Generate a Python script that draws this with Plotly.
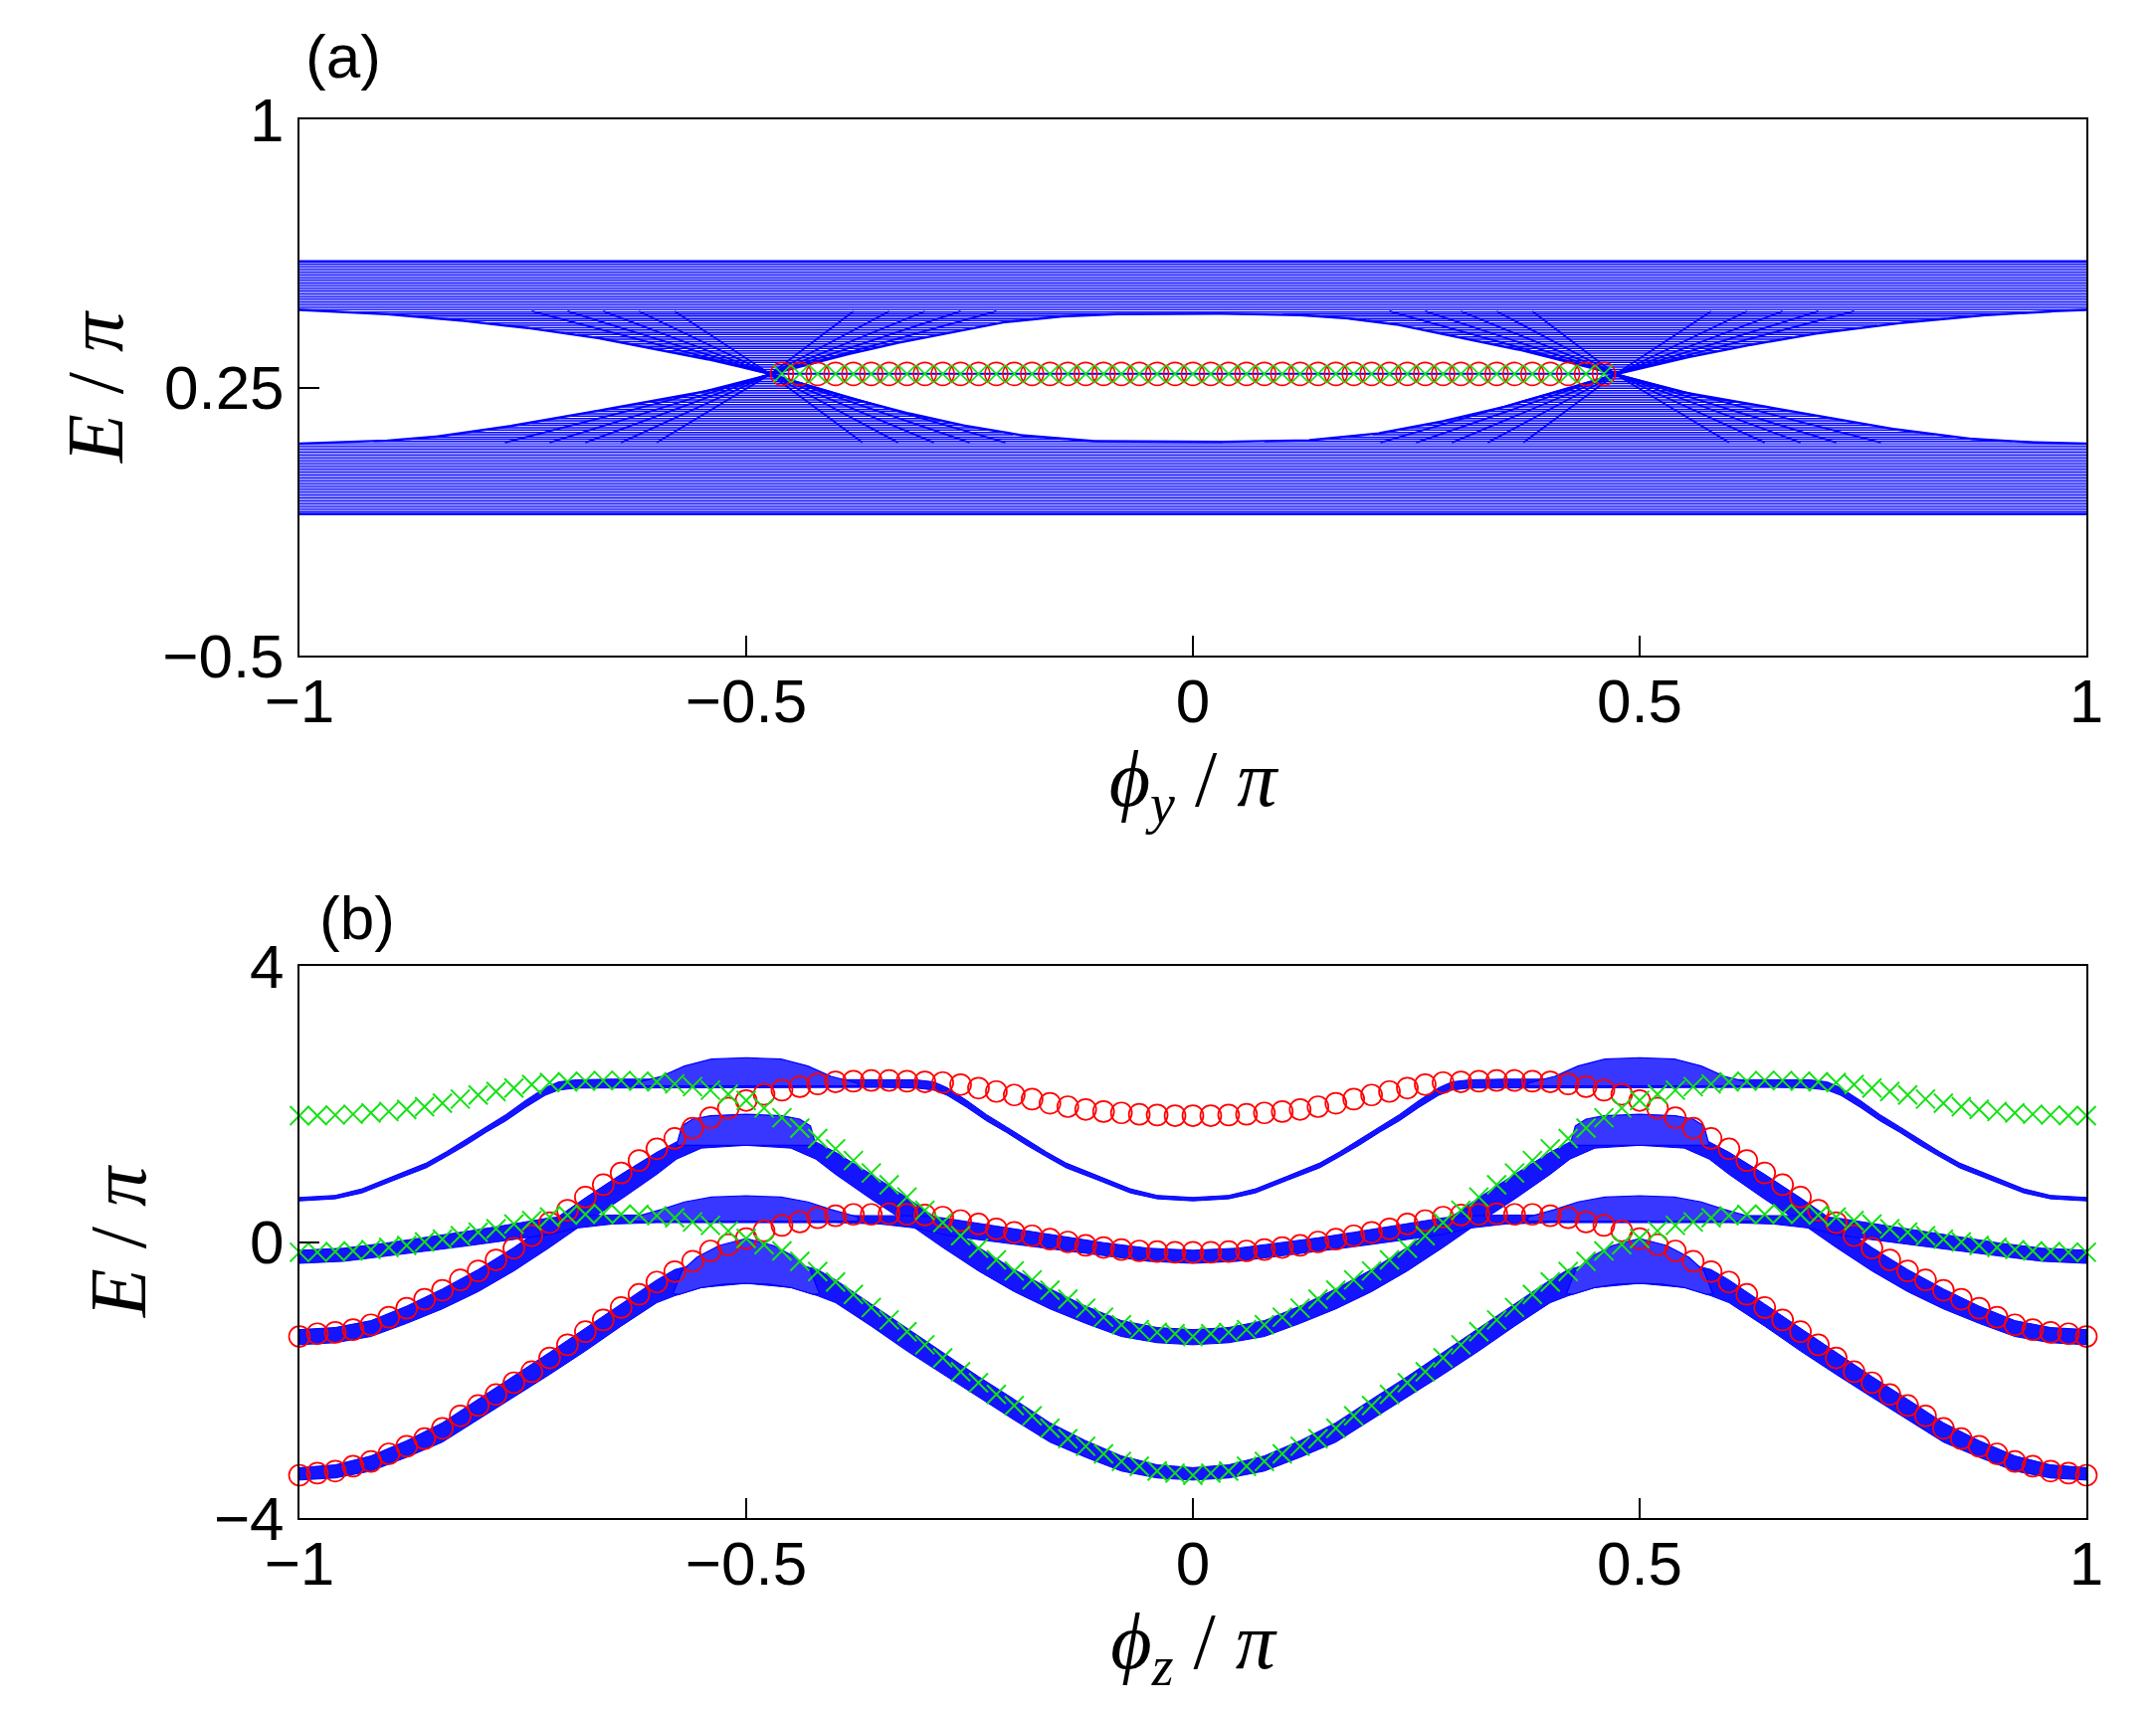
import numpy as np
import plotly.graph_objects as go

# ======================= Panel (a) data =======================
A_UPPER_BAND_LEVELS = [0.467, 0.474, 0.482, 0.489, 0.497, 0.504, 0.512, 0.520, 0.527, 0.535,
                       0.542, 0.550, 0.557, 0.565, 0.572, 0.580, 0.588, 0.595, 0.603]
A_LOWER_BAND_LEVELS = [0.093, 0.085, 0.077, 0.069, 0.061, 0.053, 0.045, 0.037, 0.029, 0.021,
                       0.013, 0.005, -0.003, -0.011, -0.019, -0.027, -0.035, -0.043, -0.051,
                       -0.059, -0.067, -0.075, -0.083, -0.091, -0.098, -0.104]
A_UPPER_FAN_LEVELS = [0.294, 0.300, 0.307, 0.313, 0.320, 0.326, 0.333, 0.339, 0.346, 0.352,
                      0.359, 0.365, 0.372, 0.378, 0.385, 0.391, 0.398, 0.404, 0.411, 0.417,
                      0.424, 0.430, 0.437, 0.443, 0.450, 0.455, 0.461]
A_LOWER_FAN_LEVELS = [0.280, 0.274, 0.267, 0.261, 0.254, 0.248, 0.241, 0.235, 0.228, 0.222,
                      0.215, 0.209, 0.202, 0.196, 0.189, 0.183, 0.176, 0.170, 0.163, 0.157,
                      0.150, 0.144, 0.137, 0.131, 0.124, 0.118, 0.111, 0.105, 0.099]
# edges of the two bulk bands (for phi >= 0, the picture is mirror symmetric)
A_UPPER_EDGE_PHI = [0.0, 0.10, 0.16, 0.22, 0.29, 0.35, 0.41, 0.473, 0.53, 0.60, 0.68, 0.77, 0.86, 0.93, 1.0]
A_UPPER_EDGE_E = [0.457, 0.455, 0.447, 0.430, 0.395, 0.365, 0.328, 0.287, 0.322, 0.358, 0.395, 0.425, 0.447, 0.460, 0.467]
A_LOWER_EDGE_PHI = [0.0, 0.12, 0.20, 0.27, 0.34, 0.41, 0.473, 0.54, 0.62, 0.70, 0.78, 0.86, 0.93, 1.0]
A_LOWER_EDGE_E = [0.097, 0.100, 0.118, 0.150, 0.190, 0.238, 0.287, 0.240, 0.205, 0.170, 0.135, 0.108, 0.097, 0.093]
A_CROSS_PHI = 0.473
A_CROSS_E = 0.287
A_ARM_UPPER_END_E = 0.463
A_ARM_LOWER_END_E = 0.096
A_ARM_UPPER_OUTER = [0.58, 0.62, 0.66, 0.70, 0.74]
A_ARM_UPPER_INNER = [0.38, 0.34, 0.30, 0.26, 0.22]
A_ARM_LOWER_OUTER = [0.60, 0.64, 0.68, 0.72, 0.77]
A_ARM_LOWER_INNER = [0.37, 0.33, 0.29, 0.25, 0.21]
A_EDGE_STATE_PHI = [round(-0.46 + 0.02 * i, 2) for i in range(47)]
A_EDGE_STATE_E = [0.288] * 47

# ======================= Panel (b) data =======================
B_PHI = np.linspace(-1, 1, 101)
# red circles, phi from -1 to 0 (mirror symmetric)
R1_HALF = [-1.37, -1.33, -1.31, -1.27, -1.20, -1.09, -0.96, -0.83, -0.70, -0.55, -0.42, -0.26, -0.09,
           0.09, 0.28, 0.46, 0.65, 0.83, 1.00, 1.18, 1.35, 1.50, 1.65, 1.80, 1.94, 2.05, 2.14, 2.20,
           2.25, 2.29, 2.32, 2.33, 2.34, 2.34, 2.33, 2.32, 2.31, 2.28, 2.23, 2.18, 2.13, 2.07, 2.01,
           1.96, 1.92, 1.89, 1.87, 1.85, 1.84, 1.83, 1.83]
R2_HALF = [-3.38, -3.35, -3.32, -3.25, -3.18, -3.07, -2.96, -2.85, -2.70, -2.52, -2.37, -2.21, -2.04,
           -1.88, -1.68, -1.49, -1.30, -1.13, -0.95, -0.76, -0.58, -0.43, -0.28, -0.13, -0.04, 0.05,
           0.16, 0.24, 0.29, 0.35, 0.38, 0.40, 0.40, 0.41, 0.40, 0.39, 0.36, 0.31, 0.26, 0.19, 0.14,
           0.09, 0.04, 0.00, -0.05, -0.08, -0.11, -0.13, -0.14, -0.15, -0.15]
# green crosses, phi from -1 to 0
G1_HALF = [1.83, 1.83, 1.84, 1.85, 1.87, 1.89, 1.92, 1.96, 2.01, 2.07, 2.13, 2.18, 2.23, 2.28, 2.31,
           2.32, 2.33, 2.34, 2.34, 2.33, 2.32, 2.29, 2.25, 2.20, 2.14, 2.05, 1.94, 1.80, 1.65, 1.50,
           1.35, 1.18, 1.00, 0.83, 0.65, 0.46, 0.28, 0.09, -0.09, -0.26, -0.42, -0.55, -0.70, -0.83,
           -0.96, -1.09, -1.20, -1.27, -1.31, -1.33, -1.37]
G2_HALF = [-0.15, -0.15, -0.14, -0.13, -0.11, -0.08, -0.05, 0.00, 0.04, 0.09, 0.14, 0.19, 0.26, 0.31,
           0.36, 0.39, 0.40, 0.41, 0.40, 0.40, 0.38, 0.35, 0.29, 0.24, 0.16, 0.05, -0.04, -0.13, -0.28,
           -0.43, -0.58, -0.76, -0.95, -1.13, -1.30, -1.49, -1.68, -1.88, -2.04, -2.21, -2.37, -2.52,
           -2.70, -2.85, -2.96, -3.07, -3.18, -3.25, -3.32, -3.35, -3.38]

# blue bulk ribbons, phi from -1 to -0.5 (symmetric about -0.5 and 0)
B1_PHI = [-1.0, -0.96, -0.93, -0.895, -0.858, -0.836, -0.814, -0.791, -0.769, -0.747, -0.725, -0.71, -0.69, -0.65, -0.6, -0.55, -0.5]
B1_UP = [0.645, 0.675, 0.77, 0.95, 1.145, 1.305, 1.48, 1.67, 1.845, 2.05, 2.235, 2.32, 2.35, 2.36, 2.36, 2.36, 2.36]
B1_LO = [0.595, 0.625, 0.71, 0.89, 1.075, 1.235, 1.40, 1.59, 1.755, 1.95, 2.125, 2.20, 2.23, 2.24, 2.24, 2.24, 2.24]
B2_PHI = [-1.0, -0.95, -0.90, -0.86, -0.82, -0.78, -0.75, -0.72, -0.69, -0.65, -0.6, -0.5]
B2_UP = [-0.12, -0.09, -0.01, 0.06, 0.14, 0.22, 0.29, 0.35, 0.38, 0.39, 0.39, 0.39]
B2_LO = [-0.31, -0.28, -0.20, -0.13, -0.07, 0.00, 0.05, 0.11, 0.20, 0.26, 0.28, 0.28]
M2_PHI = [-1.0, -0.96, -0.92, -0.88, -0.84, -0.80, -0.76, -0.72, -0.68, -0.64, -0.60, -0.578, -0.55, -0.5]
M2_UP = [-1.27, -1.24, -1.14, -0.93, -0.68, -0.40, -0.08, 0.28, 0.64, 0.98, 1.30, 1.45, 1.45, 1.45]
M2_LO = [-1.49, -1.46, -1.37, -1.18, -0.97, -0.72, -0.42, -0.08, 0.28, 0.62, 0.98, 1.20, 1.36, 1.40]
M1_PHI = [-1.0, -0.96, -0.92, -0.88, -0.84, -0.80, -0.76, -0.72, -0.68, -0.64, -0.60, -0.58, -0.55, -0.5]
M1_UP = [-3.27, -3.23, -3.10, -2.88, -2.62, -2.28, -1.95, -1.60, -1.25, -0.90, -0.55, -0.40, -0.30, -0.30]
M1_LO = [-3.45, -3.42, -3.32, -3.12, -2.90, -2.58, -2.25, -1.92, -1.58, -1.22, -0.88, -0.78, -0.66, -0.60]
# dense caps / blobs around phi = -0.5 (half outline: top-centre -> left side -> bottom-centre)
CAP1_PHI = [-0.5, -0.539, -0.569, -0.595, -0.625, -0.625, -0.5]
CAP1_E = [2.67, 2.65, 2.55, 2.40, 2.30, 2.26, 2.26]
BLOB1_PHI = [-0.5, -0.54, -0.56, -0.572, -0.578, -0.5]
BLOB1_E = [1.85, 1.83, 1.78, 1.68, 1.40, 1.40]
CAP2_PHI = [-0.5, -0.539, -0.569, -0.595, -0.625, -0.625, -0.5]
CAP2_E = [0.67, 0.65, 0.58, 0.47, 0.36, 0.30, 0.30]
BLOB2_PHI = [-0.5, -0.53, -0.555, -0.572, -0.582, -0.575, -0.55, -0.525, -0.5]
BLOB2_E = [0.05, -0.05, -0.22, -0.42, -0.75, -0.76, -0.66, -0.61, -0.60]

BLUE = "rgb(0,0,255)"
LIGHTBLUE = "rgb(150,150,255)"
RED = "rgb(255,0,0)"
GREEN = "rgb(20,225,20)"

fig = go.Figure()

# ----------------------- panel (a) drawing -----------------------
XS = np.linspace(-1, 1, 2001)
U = np.interp(np.abs(XS), A_UPPER_EDGE_PHI, A_UPPER_EDGE_E)
L = np.interp(np.abs(XS), A_LOWER_EDGE_PHI, A_LOWER_EDGE_E)


def runs(mask):
    segs = []
    start = None
    n = len(mask)
    for i in range(n):
        if mask[i] and start is None:
            start = i
        if start is not None and (not mask[i] or i == n - 1):
            end = i if mask[i] else i - 1
            segs.append((float(XS[start]), float(XS[end])))
            start = None
    return segs


def seg_xy(segs_levels):
    xs, ys = [], []
    for (a, b), lv in segs_levels:
        xs += [a, b, None]
        ys += [lv, lv, None]
    return xs, ys


# band fills
for lo, hi in [(A_UPPER_BAND_LEVELS[0], A_UPPER_BAND_LEVELS[-1]),
               (A_LOWER_BAND_LEVELS[-1], A_LOWER_BAND_LEVELS[0])]:
    fig.add_trace(go.Scatter(x=[-1, 1, 1, -1, -1], y=[lo, lo, hi, hi, lo], fill="toself",
                             fillcolor=LIGHTBLUE, mode="none", xaxis="x", yaxis="y",
                             hoverinfo="skip"))
# full band lines
bx, by = [], []
for lv in A_UPPER_BAND_LEVELS + A_LOWER_BAND_LEVELS:
    bx += [-1, 1, None]
    by += [lv, lv, None]
fig.add_trace(go.Scatter(x=bx, y=by, mode="lines", line=dict(color=BLUE, width=0.9),
                         xaxis="x", yaxis="y", hoverinfo="skip"))
# fan lines
items = []
for lv in A_UPPER_FAN_LEVELS:
    for s in runs(U <= lv):
        items.append((s, lv))
for lv in A_LOWER_FAN_LEVELS:
    for s in runs(L >= lv):
        items.append((s, lv))
fx, fy = seg_xy(items)
fig.add_trace(go.Scatter(x=fx, y=fy, mode="lines", line=dict(color=BLUE, width=1.5),
                         xaxis="x", yaxis="y", hoverinfo="skip"))
# arms from the crossing points
ax_, ay_ = [], []
for sgn in (-1, 1):
    c = sgn * A_CROSS_PHI
    for p in A_ARM_UPPER_OUTER + A_ARM_UPPER_INNER:
        ax_ += [c, sgn * p, None]
        ay_ += [A_CROSS_E, A_ARM_UPPER_END_E, None]
    for p in A_ARM_LOWER_OUTER + A_ARM_LOWER_INNER:
        ax_ += [c, sgn * p, None]
        ay_ += [A_CROSS_E, A_ARM_LOWER_END_E, None]
fig.add_trace(go.Scatter(x=ax_, y=ay_, mode="lines", line=dict(color=BLUE, width=1.8),
                         xaxis="x", yaxis="y", hoverinfo="skip"))
# band edges
fig.add_trace(go.Scatter(x=XS, y=U, mode="lines", line=dict(color=BLUE, width=2.4),
                         xaxis="x", yaxis="y", hoverinfo="skip"))
fig.add_trace(go.Scatter(x=XS, y=L, mode="lines", line=dict(color=BLUE, width=2.4),
                         xaxis="x", yaxis="y", hoverinfo="skip"))
fig.add_trace(go.Scatter(x=[-1, 1], y=[A_UPPER_BAND_LEVELS[-1]] * 2, mode="lines",
                         line=dict(color=BLUE, width=2.5), xaxis="x", yaxis="y", hoverinfo="skip"))
fig.add_trace(go.Scatter(x=[-1, 1], y=[A_LOWER_BAND_LEVELS[-1]] * 2, mode="lines",
                         line=dict(color=BLUE, width=2.5), xaxis="x", yaxis="y", hoverinfo="skip"))
# edge state
fig.add_trace(go.Scatter(x=[-A_CROSS_PHI, A_CROSS_PHI], y=[A_EDGE_STATE_E[0]] * 2, mode="lines",
                         line=dict(color=BLUE, width=2), xaxis="x", yaxis="y", hoverinfo="skip"))
fig.add_trace(go.Scatter(x=A_EDGE_STATE_PHI, y=A_EDGE_STATE_E, mode="markers",
                         marker=dict(symbol="circle-open", size=23, color=RED, line=dict(width=1.6, color=RED)),
                         xaxis="x", yaxis="y", hoverinfo="skip"))
fig.add_trace(go.Scatter(x=A_EDGE_STATE_PHI, y=A_EDGE_STATE_E, mode="markers",
                         marker=dict(symbol="x-thin-open", size=18, color=GREEN, line=dict(width=1.6, color=GREEN)),
                         xaxis="x", yaxis="y", hoverinfo="skip"))

# ----------------------- panel (b) drawing -----------------------


def unfold(ph, v):
    ph = list(ph)
    v = list(v)
    p1 = ph + [-1 - p for p in ph[-2::-1]]
    v1 = v + v[-2::-1]
    p2 = p1 + [-p for p in p1[-2::-1]]
    v2 = v1 + v1[-2::-1]
    return p2, v2


def ribbon(ph, up, lo, color):
    px, pu = unfold(ph, up)
    _, pl = unfold(ph, lo)
    xs = px + px[::-1] + [px[0]]
    ys = pu + pl[::-1] + [pu[0]]
    fig.add_trace(go.Scatter(x=xs, y=ys, fill="toself", fillcolor=color, mode="lines",
                             line=dict(color=BLUE, width=1), xaxis="x2", yaxis="y2",
                             hoverinfo="skip"))


def blob(ph, e, color):
    for shift in (0.0, 1.0):
        xs = [p + shift for p in ph] + [-1 - p + shift for p in ph[-2::-1]]
        ys = list(e) + list(e[-2::-1])
        fig.add_trace(go.Scatter(x=xs, y=ys, fill="toself", fillcolor=color, mode="lines",
                                 line=dict(color=BLUE, width=1.2), xaxis="x2", yaxis="y2",
                                 hoverinfo="skip"))


ribbon(M1_PHI, M1_UP, M1_LO, "rgb(20,20,255)")
ribbon(M2_PHI, M2_UP, M2_LO, "rgb(20,20,255)")
ribbon(B2_PHI, B2_UP, B2_LO, "rgb(20,20,255)")
ribbon(B1_PHI, B1_UP, B1_LO, "rgb(20,20,255)")
blob(CAP1_PHI, CAP1_E, "rgb(55,55,255)")
blob(BLOB1_PHI, BLOB1_E, "rgb(55,55,255)")
blob(CAP2_PHI, CAP2_E, "rgb(55,55,255)")
blob(BLOB2_PHI, BLOB2_E, "rgb(55,55,255)")

R1 = R1_HALF + R1_HALF[-2::-1]
R2 = R2_HALF + R2_HALF[-2::-1]
G1 = G1_HALF + G1_HALF[-2::-1]
G2 = G2_HALF + G2_HALF[-2::-1]

for ser in (R1, R2):
    fig.add_trace(go.Scatter(x=B_PHI, y=ser, mode="markers", cliponaxis=False,
                             marker=dict(symbol="circle-open", size=21, color=RED, line=dict(width=1.7, color=RED)),
                             xaxis="x2", yaxis="y2", hoverinfo="skip"))
for ser in (G1, G2):
    fig.add_trace(go.Scatter(x=B_PHI, y=ser, mode="markers", cliponaxis=False,
                             marker=dict(symbol="x-thin-open", size=19, color=GREEN, line=dict(width=2, color=GREEN)),
                             xaxis="x2", yaxis="y2", hoverinfo="skip"))

# ----------------------- layout -----------------------
W, H = 2167, 1721
TICKFONT = dict(family="Liberation Sans, Arial, Helvetica, sans-serif", size=62, color="black")
TITLEFONT = dict(family="Liberation Serif, Times New Roman, serif", size=80, color="black")


def ax(**kw):
    d = dict(showline=True, linecolor="black", linewidth=2, mirror=True, ticks="inside",
             ticklen=20, tickwidth=1.5, tickcolor="black", showgrid=False, zeroline=False,
             tickfont=TICKFONT, automargin=False)
    d.update(kw)
    return d


XDOM = [301 / W, 2097 / W]
XT = [-1, -0.5, 0, 0.5, 1]
XTT = ["\u22121", "\u22120.5", "0", "0.5", "1"]

fig.update_layout(
    width=W, height=H, margin=dict(l=0, r=0, t=0, b=0),
    paper_bgcolor="white", plot_bgcolor="white", showlegend=False,
    xaxis=ax(domain=XDOM, range=[-1, 1], anchor="y", tickvals=XT, ticktext=XTT,
             ticklabelstandoff=-9,
             title=dict(text="<i>\u03d5<sub>y</sub></i> / <i>\u03c0</i>", font=TITLEFONT, standoff=16)),
    yaxis=ax(domain=[1 - 659 / H, 1 - 120 / H], range=[-0.5, 1], anchor="x",
             tickvals=[-0.5, 0.25, 1], ticktext=["\u22120.5", "0.25", "1"], ticklabelstandoff=1,
             title=dict(text="<i>E</i> / <i>\u03c0</i>", font=TITLEFONT, standoff=13)),
    xaxis2=ax(domain=XDOM, range=[-1, 1], anchor="y2", tickvals=XT, ticktext=XTT,
              ticklabelstandoff=-9,
              title=dict(text="<i>\u03d5<sub>z</sub></i> / <i>\u03c0</i>", font=TITLEFONT, standoff=16)),
    yaxis2=ax(domain=[1 - 1526 / H, 1 - 971 / H], range=[-4, 4], anchor="x2",
              tickvals=[-4, 0, 4], ticktext=["\u22124", "0", "4"], ticklabelstandoff=1,
              title=dict(text="<i>E</i> / <i>\u03c0</i>", font=TITLEFONT, standoff=42)),
    annotations=[
        dict(text="(a)", x=345 / W, y=1 - 57 / H, xref="paper", yref="paper", showarrow=False,
             xanchor="center", yanchor="middle",
             font=dict(family="Liberation Sans, Arial, sans-serif", size=62, color="black")),
        dict(text="(b)", x=359 / W, y=1 - 922 / H, xref="paper", yref="paper", showarrow=False,
             xanchor="center", yanchor="middle",
             font=dict(family="Liberation Sans, Arial, sans-serif", size=62, color="black")),
    ],
)

fig.write_html("out.html")
